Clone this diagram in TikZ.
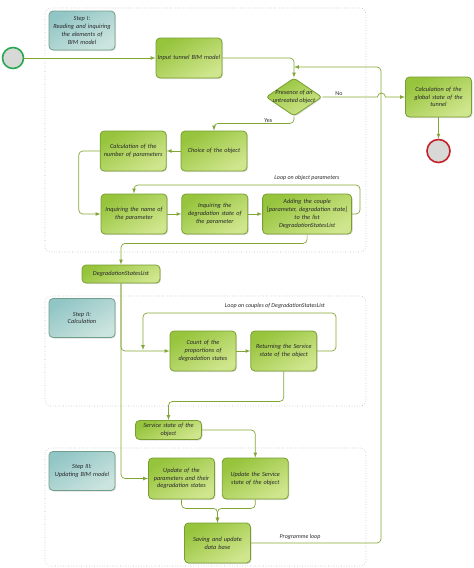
\documentclass[tikz,border=0pt]{standalone}
\usepackage{fontspec}
\setmainfont{Carlito}
\usetikzlibrary{positioning,shapes.geometric,arrows,shadows}

\definecolor{actline}{RGB}{120,158,48}
\definecolor{actA}{RGB}{150,196,60}
\definecolor{actB}{RGB}{208,230,142}
\definecolor{stepline}{RGB}{112,160,140}
\definecolor{stepA}{RGB}{146,198,198}
\definecolor{stepB}{RGB}{204,228,222}
\definecolor{flowc}{RGB}{130,166,54}
\definecolor{txt}{RGB}{40,40,40}
\definecolor{startc}{RGB}{40,168,80}
\definecolor{stopc}{RGB}{196,32,40}
\definecolor{evfill}{RGB}{216,216,214}

\tikzstyle{act} = [rectangle, rounded corners=4pt, draw=actline, line width=0.8pt,
                   top color=actA, bottom color=actB, shading angle=30,
                   drop shadow={shadow xshift=1pt, shadow yshift=-1pt, opacity=0.25},
                   minimum width=66pt, minimum height=40pt, text width=64pt,
                   align=center, inner sep=1pt, text=txt,
                   font=\fontsize{6.3}{7.8}\selectfont\itshape]
\tikzstyle{decision} = [diamond, rounded corners=3pt, draw=actline, line width=0.8pt,
                   top color=actA, bottom color=actB, shading angle=30,
                   drop shadow={shadow xshift=1pt, shadow yshift=-1pt, opacity=0.25},
                   minimum width=56pt, minimum height=38pt, inner sep=-6pt,
                   align=center, text=txt, font=\fontsize{6.3}{7.8}\selectfont\itshape]
\tikzstyle{steplbl} = [act, draw=stepline, top color=stepA, bottom color=stepB,
                   shading angle=30, minimum height=39pt]
\tikzstyle{startev} = [circle, draw=startc, line width=1.6pt, fill=evfill,
                   minimum size=21pt, inner sep=0pt]
\tikzstyle{stopev} = [startev, draw=stopc, minimum size=23pt]
\tikzstyle{flow} = [draw=flowc, line width=0.7pt, ->, rounded corners=4pt]
\tikzstyle{lane} = [draw=gray!55, dotted, line width=0.6pt, rounded corners=6pt]
\tikzstyle{lbl} = [inner sep=1pt, text=txt, font=\fontsize{6}{7}\selectfont]
\tikzstyle{looplbl} = [lbl, font=\fontsize{6}{7}\selectfont\itshape]

\begin{document}
\begin{tikzpicture}[
    x=1pt, y=1pt,
    >=latex,
    node distance=14pt
]
   \useasboundingbox (0,0) rectangle (474,-568);

   % steps
   \draw[lane] (45,-8)   rectangle (366,-252);
   \draw[lane] (45,-296) rectangle (366,-406);
   \draw[lane] (45,-448) rectangle (366,-566);

   \node[steplbl] (stepI)   at (82,-30.5) {Step I:\\Reading and inquiring\\the elements of\\BIM model};
   \node[steplbl] (stepII)  at (82,-318)  {Step II:\\Calculation};
   \node[steplbl] (stepIII) at (82,-471)  {Step III:\\Updating BIM model};

   % step I
   \node[startev]  (start)  at (13,-58)    {};
   \node[act]      (input)  at (189,-58)   {Input tunnel BIM model};
   \node[decision] (decide) at (294,-97)   {Presence of an\\untreated object};
   \node[act]      (glob)   at (438.5,-97) {Calculation of the\\global state of the\\tunnel};
   \node[stopev]   (stop)   at (438.5,-151) {};
   \node[act]      (choice) at (214,-151)  {Choice of the object};
   \node[act]      (nparam) [left=of choice] {Calculation of the\\number of parameters};
   \node[act]      (pname)  at (134,-214)  {Inquiring the name of\\the parameter};
   \node[act]      (pstate) [right=of pname] {Inquiring the\\degradation state of\\the parameter};
   \node[act, minimum width=89pt, text width=86pt] (addcpl) [right=of pstate]
        {Adding the couple\\{}[parameter, degradation state]\\to the list\\DegradationStatesList};
   \node[act, minimum width=78pt, minimum height=18pt, text width=76pt] (dslist) at (121,-274)
        {DegradationStatesList};

   % step II
   \node[act]      (count)  at (203,-351)  {Count of the\\proportions of\\degradation states};
   \node[act]      (ret)    [right=of count] {Returning the Service\\state of the object};
   \node[act, minimum height=19pt, text width=64pt] (sstate) at (168.5,-430)
        {Service state of the\\object};

   % step III
   \node[act, minimum height=41pt] (updpar) at (181.5,-478.5)
        {Update of the\\parameters and their\\degradation states};
   \node[act, minimum height=41pt] (updsrv) [right=7pt of updpar]
        {Update the Service\\state of the object};
   \node[act]      (save)   at (217.5,-543) {Saving and update\\data base};

   \coordinate (merge)    at (294,-67);
   \coordinate (back)     at (381,-67);
   \coordinate (loopA)    at (360,-185);
   \coordinate (loopB)    at (336,-313);
   \coordinate (loopBend) at (143,-350);

   \draw[flow] (start) -- (input);
   \draw[flow] (input.east) -| (decide.north);
   \draw[flow, sharp corners] (decide.east) -- node[lbl, above, pos=0.3] (no) {No} ++(55,0)
        arc[start angle=180, end angle=0, radius=4] -- (glob.west);
   \draw[flow] (glob) -- (stop);
   \draw[flow] (decide.south) -- ++(0,-7) -| node[lbl, above, pos=0.16] (yes) {Yes} (choice.north);
   \draw[flow] (choice) -- (nparam);
   \draw[flow] (nparam.west) -- ++(-21,0) |- (pname.west);
   \draw[flow] (pname) -- (pstate);
   \draw[flow] (pstate) -- (addcpl);
   \draw[flow] (addcpl.east) -| (loopA) -| (pname.north);
   \node[looplbl] (loopAlbl) at (307,-178) {Loop on object parameters};
   \draw[flow] (addcpl.south) -- ++(0,-9) -| (dslist.north);

   \draw[flow] (dslist.south) |- (count.west);
   \draw[flow] (dslist.south) |- (updpar.west);
   \draw[flow] (count) -- (ret);
   \draw[flow] (ret.east) -| (loopB) -| (loopBend);
   \node[looplbl] (loopBlbl) at (275,-306) {Loop on couples of DegradationStatesList};
   \draw[flow] (ret.south) -- ++(0,-30) -| (sstate.north);

   \draw[flow] (sstate.east) -| (updsrv.north);
   \draw[flow] (updpar.south) -- ++(0,-9) -| (save.north);
   \draw[flow] (updsrv.south) -- ++(0,-9) -| (save.north);
   \draw[flow] (save.east) -| (back) -- (merge);
   \node[looplbl] (progloop) at (300,-537) {Programme loop};

\end{tikzpicture}
\end{document}
